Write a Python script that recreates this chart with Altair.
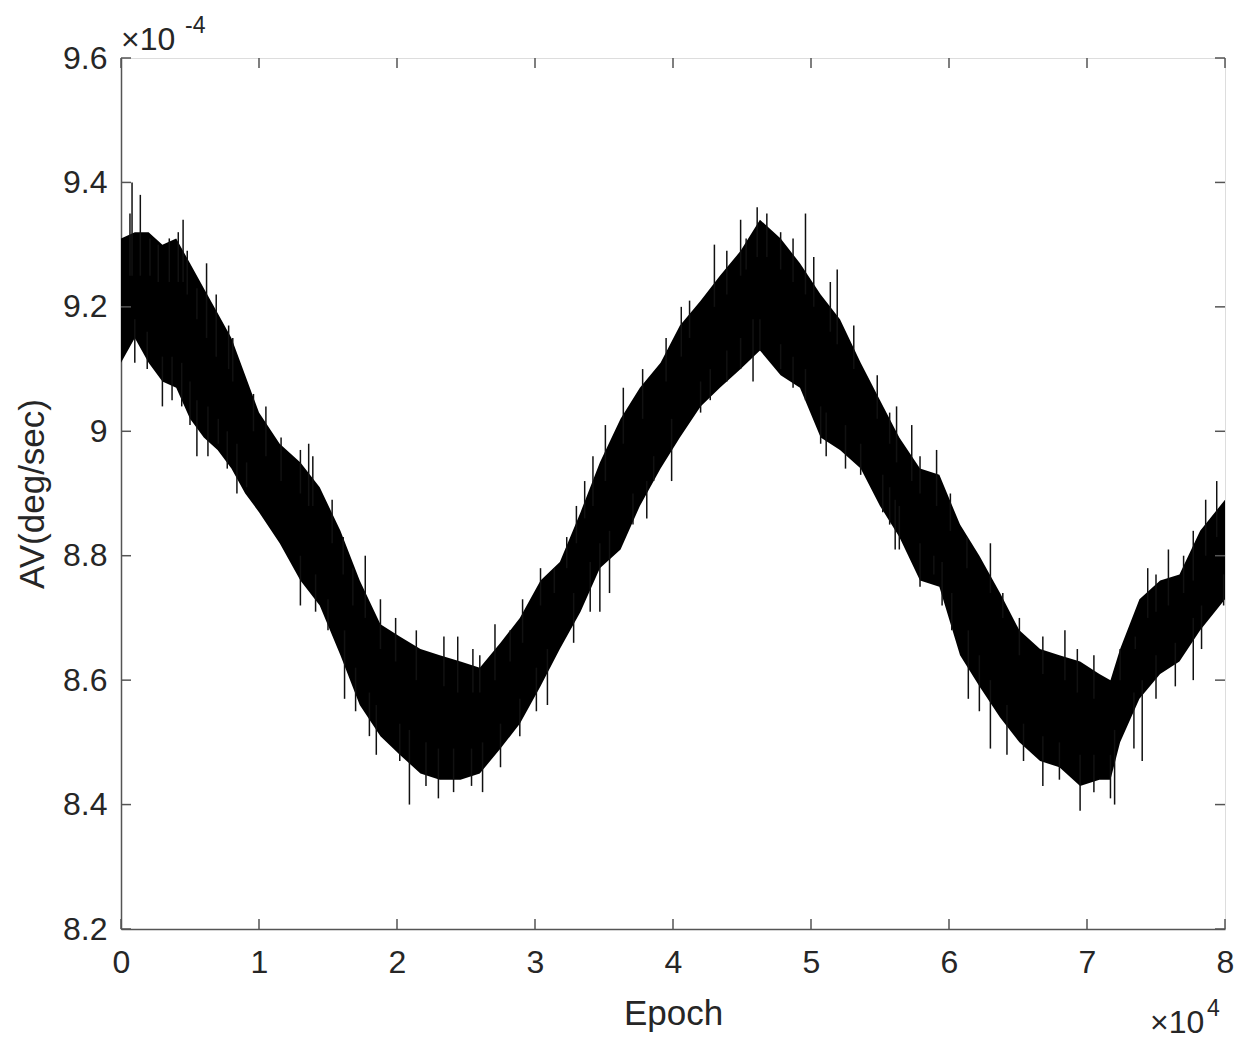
import altair as alt
import pandas as pd

# Epoch in units of 1e4, AV in units of 1e-4 deg/sec
band_x = [0.00, 0.10, 0.20, 0.30, 0.40, 0.50, 0.60, 0.70, 0.80, 0.90, 1.00, 1.15, 1.30, 1.44, 1.59,
          1.73, 1.88, 2.02, 2.17, 2.31, 2.46, 2.60, 2.75, 2.89, 3.04, 3.18, 3.33, 3.47, 3.62, 3.76,
          3.91, 4.05, 4.20, 4.34, 4.49, 4.63, 4.78, 4.92, 5.07, 5.21, 5.36, 5.50, 5.64, 5.79, 5.93,
          6.08, 6.22, 6.37, 6.51, 6.66, 6.80, 6.95, 7.09, 7.17, 7.24, 7.38, 7.53, 7.67, 7.82, 8.00]
band_upper = [9.31, 9.32, 9.32, 9.30, 9.31, 9.27, 9.23, 9.19, 9.15, 9.09, 9.03, 8.98, 8.95, 8.91, 8.84,
              8.76, 8.69, 8.67, 8.65, 8.64, 8.63, 8.62, 8.66, 8.70, 8.76, 8.79, 8.87, 8.95, 9.02, 9.07,
              9.11, 9.17, 9.21, 9.25, 9.29, 9.34, 9.31, 9.27, 9.22, 9.18, 9.11, 9.05, 8.99, 8.94, 8.93,
              8.85, 8.80, 8.74, 8.68, 8.65, 8.64, 8.63, 8.61, 8.60, 8.65, 8.73, 8.76, 8.77, 8.84, 8.89]
band_lower = [9.11, 9.15, 9.11, 9.08, 9.07, 9.02, 8.99, 8.97, 8.94, 8.90, 8.87, 8.82, 8.76, 8.72, 8.64,
              8.56, 8.51, 8.48, 8.45, 8.44, 8.44, 8.45, 8.49, 8.53, 8.59, 8.65, 8.71, 8.78, 8.81, 8.88,
              8.94, 8.99, 9.04, 9.07, 9.10, 9.13, 9.09, 9.07, 8.99, 8.97, 8.94, 8.88, 8.83, 8.76, 8.75,
              8.64, 8.59, 8.54, 8.50, 8.47, 8.46, 8.43, 8.44, 8.44, 8.50, 8.57, 8.61, 8.63, 8.68, 8.73]

# Upward noise spikes: position, tip value, base value inside the band
up_x = [0.065, 0.08, 0.14, 0.21, 0.27, 0.35, 0.415, 0.45, 0.48, 0.55, 0.62, 0.69, 0.78, 0.81, 0.96,
        1.05, 1.16, 1.30, 1.36, 1.39, 1.53, 1.61, 1.68, 1.77, 1.88, 1.99, 2.14, 2.34, 2.44, 2.55,
        2.60, 2.71, 2.82, 2.91, 3.04, 3.14, 3.23, 3.30, 3.36, 3.42, 3.51, 3.64, 3.78, 3.95, 4.06,
        4.12, 4.30, 4.39, 4.49, 4.53, 4.61, 4.68, 4.78, 4.87, 4.96, 5.02, 5.14, 5.19, 5.31, 5.48,
        5.57, 5.62, 5.73, 5.79, 5.91, 6.01, 6.13, 6.30, 6.39, 6.51, 6.68, 6.84, 6.93, 7.05, 7.24,
        7.35, 7.44, 7.50, 7.59, 7.70, 7.77, 7.86, 7.94]
up_tip = [9.35, 9.40, 9.38, 9.31, 9.30, 9.31, 9.32, 9.34, 9.29, 9.23, 9.27, 9.22, 9.17, 9.15, 9.06,
          9.04, 8.99, 8.97, 8.98, 8.96, 8.89, 8.83, 8.78, 8.80, 8.73, 8.70, 8.68, 8.67, 8.67, 8.65,
          8.64, 8.69, 8.68, 8.73, 8.78, 8.78, 8.83, 8.88, 8.92, 8.96, 9.01, 9.07, 9.10, 9.15, 9.20,
          9.21, 9.30, 9.29, 9.34, 9.31, 9.36, 9.35, 9.32, 9.31, 9.35, 9.28, 9.24, 9.26, 9.17, 9.09,
          9.03, 9.04, 9.01, 8.96, 8.97, 8.90, 8.83, 8.82, 8.74, 8.70, 8.67, 8.68, 8.65, 8.64, 8.65,
          8.67, 8.78, 8.77, 8.81, 8.80, 8.84, 8.89, 8.92]
up_base = [9.25, 9.25, 9.25, 9.25, 9.24, 9.24, 9.24, 9.24, 9.22, 9.18, 9.15, 9.12, 9.10, 9.08, 9.00,
           8.96, 8.92, 8.90, 8.88, 8.88, 8.82, 8.77, 8.72, 8.70, 8.65, 8.63, 8.60, 8.59, 8.58, 8.58,
           8.58, 8.60, 8.63, 8.66, 8.72, 8.74, 8.78, 8.82, 8.86, 8.88, 8.92, 8.98, 9.02, 9.08, 9.12,
           9.15, 9.20, 9.22, 9.25, 9.26, 9.28, 9.28, 9.26, 9.24, 9.22, 9.20, 9.16, 9.14, 9.10, 9.02,
           8.98, 8.95, 8.92, 8.90, 8.88, 8.84, 8.78, 8.74, 8.70, 8.64, 8.61, 8.60, 8.58, 8.57, 8.60,
           8.65, 8.70, 8.71, 8.72, 8.74, 8.76, 8.80, 8.83]

# Downward noise spikes
lo_x = [0.10, 0.19, 0.30, 0.37, 0.44, 0.50, 0.55, 0.63, 0.705, 0.77, 0.84, 0.91, 1.30, 1.41, 1.50,
        1.62, 1.70, 1.80, 1.85, 2.02, 2.09, 2.21, 2.30, 2.41, 2.54, 2.62, 2.75, 2.89, 3.01, 3.09,
        3.28, 3.40, 3.47, 3.54, 3.71, 3.81, 3.86, 3.99, 4.20, 4.27, 4.39, 4.49, 4.58, 4.63, 4.78,
        4.87, 4.96, 5.07, 5.11, 5.25, 5.36, 5.52, 5.57, 5.61, 5.64, 5.79, 5.89, 5.95, 6.02, 6.14,
        6.22, 6.30, 6.42, 6.54, 6.68, 6.80, 6.95, 7.05, 7.17, 7.20, 7.34, 7.40, 7.50, 7.64, 7.77,
        7.83, 7.99]
lo_tip = [9.11, 9.10, 9.04, 9.05, 9.04, 9.01, 8.96, 8.96, 8.98, 8.94, 8.90, 8.91, 8.72, 8.71, 8.68,
          8.57, 8.55, 8.51, 8.48, 8.47, 8.40, 8.43, 8.41, 8.42, 8.43, 8.42, 8.46, 8.51, 8.55, 8.56,
          8.66, 8.71, 8.71, 8.74, 8.85, 8.86, 8.92, 8.92, 9.03, 9.05, 9.08, 9.10, 9.08, 9.13, 9.10,
          9.07, 9.05, 8.98, 8.96, 8.94, 8.93, 8.87, 8.85, 8.81, 8.81, 8.75, 8.77, 8.72, 8.68, 8.57,
          8.55, 8.49, 8.48, 8.47, 8.43, 8.44, 8.39, 8.42, 8.41, 8.40, 8.49, 8.47, 8.57, 8.59, 8.60,
          8.65, 8.72]
lo_base = [9.18, 9.16, 9.12, 9.12, 9.11, 9.08, 9.05, 9.04, 9.02, 9.00, 8.98, 8.95, 8.80, 8.77, 8.73,
           8.68, 8.62, 8.58, 8.56, 8.53, 8.52, 8.50, 8.49, 8.49, 8.49, 8.50, 8.53, 8.57, 8.62, 8.65,
           8.74, 8.79, 8.82, 8.84, 8.90, 8.92, 8.96, 9.02, 9.08, 9.10, 9.13, 9.15, 9.18, 9.18, 9.14,
           9.12, 9.10, 9.04, 9.03, 9.01, 8.98, 8.93, 8.91, 8.89, 8.88, 8.82, 8.80, 8.79, 8.74, 8.68,
           8.64, 8.60, 8.56, 8.53, 8.51, 8.50, 8.48, 8.48, 8.48, 8.52, 8.58, 8.60, 8.64, 8.66, 8.70,
           8.72, 8.77]

x_ticks = [0, 1, 2, 3, 4, 5, 6, 7, 8]
y_ticks = [8.2, 8.4, 8.6, 8.8, 9.0, 9.2, 9.4, 9.6]

W, H = 1104, 871
FONT = "Liberation Sans"
TXT = "#262626"
AX = "#555555"

band = pd.DataFrame({"epoch": band_x, "hi": band_upper, "lo": band_lower})
spikes = pd.DataFrame({"epoch": up_x + lo_x, "tip": up_tip + lo_tip, "base": up_base + lo_base})
xt = pd.DataFrame({"v": x_ticks})
yt = pd.DataFrame({"v": y_ticks})

xscale = alt.Scale(domain=[0, 8], nice=False, zero=False)
yscale = alt.Scale(domain=[8.2, 9.6], nice=False, zero=False)

xaxis = alt.Axis(title="Epoch", values=x_ticks, format="d", grid=False, ticks=False,
                 domainColor=AX, domainWidth=1.5, labelFont=FONT, labelFontSize=32,
                 labelColor=TXT, labelPadding=18, titleFont=FONT, titleFontSize=35,
                 titleFontWeight="normal", titleColor=TXT, titlePadding=18,
                 labelFlush=False)
yaxis = alt.Axis(title="AV(deg/sec)", values=y_ticks, format=".1~f", grid=False, ticks=False,
                 domainColor=AX, domainWidth=1.5, labelFont=FONT, labelFontSize=32,
                 labelColor=TXT, labelPadding=14, titleFont=FONT, titleFontSize=35,
                 titleFontWeight="normal", titleColor=TXT, titlePadding=12,
                 labelFlush=False)

area = alt.Chart(band).mark_area(color="black", opacity=1).encode(
    x=alt.X("epoch:Q", scale=xscale, axis=xaxis),
    y=alt.Y("hi:Q", scale=yscale, axis=yaxis),
    y2="lo:Q",
)

spike = alt.Chart(spikes).mark_rule(color="#111111", strokeWidth=1.5).encode(
    x=alt.X("epoch:Q", scale=xscale),
    y=alt.Y("tip:Q", scale=yscale),
    y2="base:Q",
)

tl = 10
ytick_l = alt.Chart(yt).mark_rule(color=AX, strokeWidth=1.5).encode(
    y=alt.Y("v:Q", scale=yscale), x=alt.value(0), x2=alt.value(tl))
ytick_r = alt.Chart(yt).mark_rule(color=AX, strokeWidth=1.5).encode(
    y=alt.Y("v:Q", scale=yscale), x=alt.value(W - tl), x2=alt.value(W))
xtick_b = alt.Chart(xt).mark_rule(color=AX, strokeWidth=1.5).encode(
    x=alt.X("v:Q", scale=xscale), y=alt.value(H - tl), y2=alt.value(H))
xtick_t = alt.Chart(xt).mark_rule(color=AX, strokeWidth=1.5).encode(
    x=alt.X("v:Q", scale=xscale), y=alt.value(0), y2=alt.value(tl))

def label(txt, x, y, size):
    return alt.Chart(pd.DataFrame({"t": [txt]})).mark_text(
        font=FONT, fontSize=size, color=TXT, align="left", baseline="alphabetic"
    ).encode(x=alt.value(x), y=alt.value(y), text="t:N")

ex_y = label("×10", 0, -8, 32)
ex_y2 = label("-4", 64, -25, 23)
ex_x = label("×10", 1029, 975, 32)
ex_x2 = label("4", 1086, 958, 23)

chart = alt.layer(area, spike, ytick_l, ytick_r, xtick_b, xtick_t,
                  ex_y, ex_y2, ex_x, ex_x2).properties(
    width=W, height=H,
    autosize=alt.AutoSizeParams(type="none"),
    padding={"left": 113, "top": 50, "right": 14, "bottom": 120},
).configure_view(stroke=AX, strokeWidth=1.5).configure(background="white")

chart.save("out.html", embed_options={"renderer": "svg", "actions": False})
